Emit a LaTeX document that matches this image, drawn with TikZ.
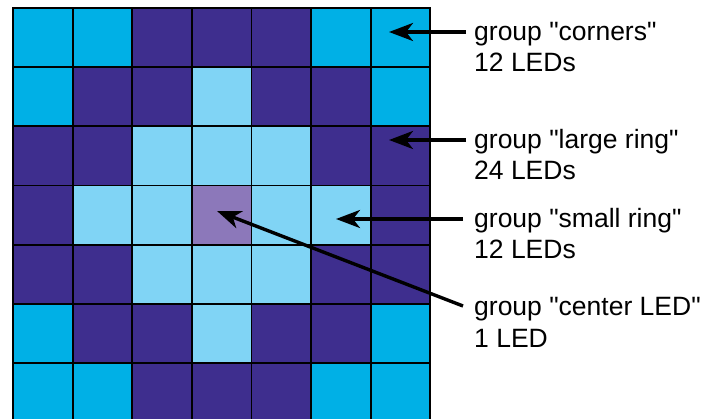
\documentclass[tikz,border=0pt]{standalone}
\usepackage{fontspec}
\setmainfont{Liberation Sans}[Ligatures=TeXOff]
\usetikzlibrary{arrows.meta}

\definecolor{ledC}{RGB}{0,176,230}
\definecolor{ledD}{RGB}{62,46,142}
\definecolor{ledL}{RGB}{128,212,245}
\definecolor{ledM}{RGB}{140,120,186}

\tikzset{
  cell/.style={draw=black, line width=1.8pt, inner sep=0pt,
    minimum width=59.6pt, minimum height=59.2pt, outer sep=0pt},
  label/.style={anchor=base west, inner sep=0pt,
    font=\fontsize{26.5pt}{31pt}\selectfont},
  pointer/.style={line width=3.4pt,
    -{Stealth[length=24pt, width=18pt, inset=7pt]}}
}

\begin{document}
\begin{tikzpicture}[x=1pt, y=-1pt]
  \useasboundingbox (0,0) rectangle (706,419);

  % 7x7 LED matrix (bottom row runs off the page edge)
  \begin{scope}
    \clip (0,0) rectangle (706,419);
    \foreach \row [count=\r from 0] in {
        {C,C,D,D,D,C,C},
        {C,D,D,L,D,D,C},
        {D,D,L,L,L,D,D},
        {D,L,L,M,L,L,D},
        {D,D,L,L,L,D,D},
        {C,D,D,L,D,D,C},
        {C,C,D,D,D,C,C}} {
      \foreach \col [count=\c from 0] in \row {
        \node[cell, fill=led\col] (cell-\r-\c)
          at ({13+59.6*(\c+0.5)}, {8+59.2*(\r+0.5)}) {};
      }
    }
  \end{scope}

  % arrow targets inside the matrix
  \coordinate (tipCorners) at (389,32);
  \coordinate (tipLarge)   at (389,140);
  \coordinate (tipSmall)   at (336,219);
  \coordinate (tipCenter)  at (217,211);

  % group labels
  \node[label] (cornersA) at (474,41)  {group "corners"};
  \node[label] (cornersB) at (474,72)  {12 LEDs};
  \node[label] (largeA)   at (474,149) {group "large ring"};
  \node[label] (largeB)   at (474,180) {24 LEDs};
  \node[label] (smallA)   at (474,228) {group "small ring"};
  \node[label] (smallB)   at (474,259) {12 LEDs};
  \node[label] (centerA)  at (474,316) {group "center LED"};
  \node[label] (centerB)  at (474,347) {1 LED};

  % pointers
  \coordinate (fromCorners) at (466,32);
  \coordinate (fromLarge)   at (466,140);
  \coordinate (fromSmall)   at (463,219);
  \coordinate (fromCenter)  at (463,306);
  \draw[pointer] (fromCorners) -- (tipCorners);
  \draw[pointer] (fromLarge)   -- (tipLarge);
  \draw[pointer] (fromSmall)   -- (tipSmall);
  \draw[pointer] (fromCenter)  -- (tipCenter);
\end{tikzpicture}
\end{document}
